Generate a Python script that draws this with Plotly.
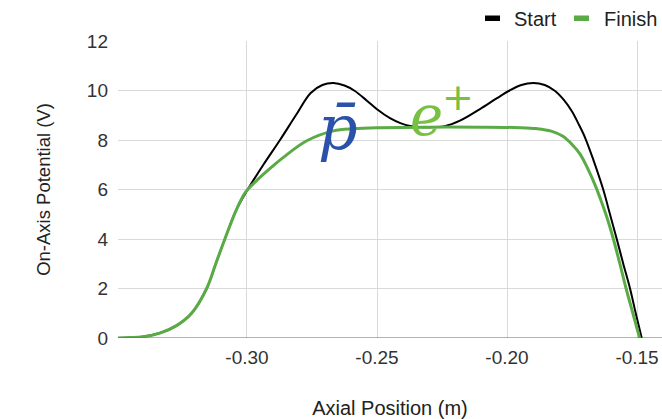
import plotly.graph_objects as go

# ---- data ----
start_x = [-0.3496, -0.340, -0.3335, -0.3271, -0.3213, -0.3155, -0.3120, -0.3085, -0.3040,
           -0.3000, -0.2937, -0.2873, -0.2812, -0.2755, -0.2710, -0.2668, -0.2625,
           -0.2585, -0.2540, -0.2500, -0.2450, -0.2410, -0.2373, -0.2300, -0.2240,
           -0.2181, -0.2104, -0.2040, -0.1990, -0.1945, -0.1899, -0.1855, -0.1815,
           -0.1780, -0.1750, -0.1725, -0.1700, -0.1668, -0.1630, -0.1604, -0.1578,
           -0.1553, -0.1527, -0.1505, -0.1482]
start_y = [0.0, 0.05, 0.2, 0.5, 1.0, 2.0, 3.0, 4.0, 5.2,
           5.95, 7.0, 8.0, 9.0, 9.9, 10.22, 10.3, 10.2,
           9.98, 9.6, 9.24, 8.88, 8.68, 8.57, 8.52, 8.56,
           8.78, 9.25, 9.68, 10.0, 10.22, 10.3, 10.22, 9.98,
           9.6, 9.15, 8.65, 8.1, 7.2, 6.0, 5.0, 4.0,
           3.0, 2.0, 1.0, 0.0]

finish_x = [-0.3496, -0.340, -0.3335, -0.3271, -0.3213, -0.3155, -0.3120, -0.3085, -0.3040,
            -0.3005, -0.2963, -0.2900, -0.2860, -0.2770, -0.2668, -0.2590, -0.2500,
            -0.2300, -0.2100, -0.1950, -0.1886, -0.1830, -0.1785, -0.1750, -0.1719,
            -0.1690, -0.1662, -0.1640, -0.1615, -0.1591, -0.1566, -0.1542, -0.1516,
            -0.1490]
finish_y = [0.0, 0.05, 0.2, 0.5, 1.0, 2.0, 3.0, 4.0, 5.2,
            5.9, 6.36, 6.95, 7.3, 7.97, 8.37, 8.46, 8.5,
            8.52, 8.52, 8.5, 8.46, 8.36, 8.15, 7.82, 7.43,
            6.85, 6.2, 5.6, 4.85, 4.0, 3.0, 2.0, 1.0,
            0.0]

series_names = ["Start", "Finish"]
x_tickvals = [-0.30, -0.25, -0.20, -0.15]
x_ticktext = ["-0.30", "-0.25", "-0.20", "-0.15"]
y_tickvals = [0, 2, 4, 6, 8, 10, 12]
x_title = "Axial Position (m)"
y_title = "On-Axis Potential (V)"
label_pbar = "p\u0304"
label_e = "e"
label_plus = "+"

BLACK = "#000000"
GREEN = "#5aab46"
BLUE = "#2b52aa"
LGREEN = "#78c043"

fig = go.Figure()
fig.add_trace(go.Scatter(x=start_x, y=start_y, mode="lines", name=series_names[0],
                         line=dict(color=BLACK, width=2, shape="spline", smoothing=1.0)))
fig.add_trace(go.Scatter(x=finish_x, y=finish_y, mode="lines", name=series_names[1],
                         line=dict(color=GREEN, width=3, shape="spline", smoothing=1.0)))

FONT = "Liberation Sans, Arial, sans-serif"

fig.update_layout(
    width=662, height=419,
    margin=dict(l=118, r=0, t=41, b=81),
    paper_bgcolor="white", plot_bgcolor="white",
    showlegend=False,
    font=dict(family=FONT, size=19, color="#222222"),
    xaxis=dict(range=[-0.3496, -0.1404], tickvals=x_tickvals, ticktext=x_ticktext,
               showgrid=True, gridcolor="#d9d9d9", gridwidth=1, zeroline=False,
               showline=False, ticks="", ticklabelstandoff=6,
               tickfont=dict(size=19, color="#333333"),
               title=dict(text=x_title, font=dict(size=20, color="#222222"), standoff=35)),
    yaxis=dict(range=[0, 12], tickvals=y_tickvals,
               showgrid=True, gridcolor="#d9d9d9", gridwidth=1,
               zeroline=False, showline=False, ticks="", ticklabelstandoff=9,
               tickfont=dict(size=19, color="#333333"),
               title=dict(text=y_title, font=dict(size=18.5, color="#222222"), standoff=31)),
)

# baseline at 0
fig.add_shape(type="line", xref="paper", yref="y", x0=0, x1=1, y0=0, y1=0,
              line=dict(color="#666666", width=1), layer="above")

# manual legend (Google-chart style short markers)
def px_x(px):
    return (px - 118) / 544.0

def px_y(py):
    return (338 - py) / 297.0

leg = [(series_names[0], BLACK, 485, 500, 512), (series_names[1], GREEN, 574, 589, 602)]
for name, col, m0, m1, tx in leg:
    fig.add_shape(type="rect", xref="paper", yref="paper",
                  x0=px_x(m0), x1=px_x(m1), y0=px_y(21), y1=px_y(15.5),
                  fillcolor=col, line=dict(width=0))
    fig.add_annotation(xref="paper", yref="paper", x=px_x(tx), y=px_y(18.5),
                       text=name, showarrow=False, xanchor="left", yanchor="middle",
                       font=dict(family=FONT, size=20, color="#222222"))

# particle labels
fig.add_annotation(x=-0.2650, y=8.5, xref="x", yref="y", text=label_pbar, showarrow=False,
                   xanchor="center", yanchor="middle",
                   font=dict(family="DejaVu Serif", size=62, color=BLUE, style="italic"))
fig.add_annotation(x=-0.2308, y=9.0, xref="x", yref="y", text=label_e, showarrow=False,
                   xanchor="center", yanchor="middle",
                   font=dict(family="DejaVu Serif", size=56, color=LGREEN, style="italic"))
fig.add_annotation(x=-0.2190, y=9.72, xref="x", yref="y", text=label_plus, showarrow=False,
                   xanchor="center", yanchor="middle",
                   font=dict(family="DejaVu Sans", size=38, color=LGREEN))

fig.write_html("out.html")
